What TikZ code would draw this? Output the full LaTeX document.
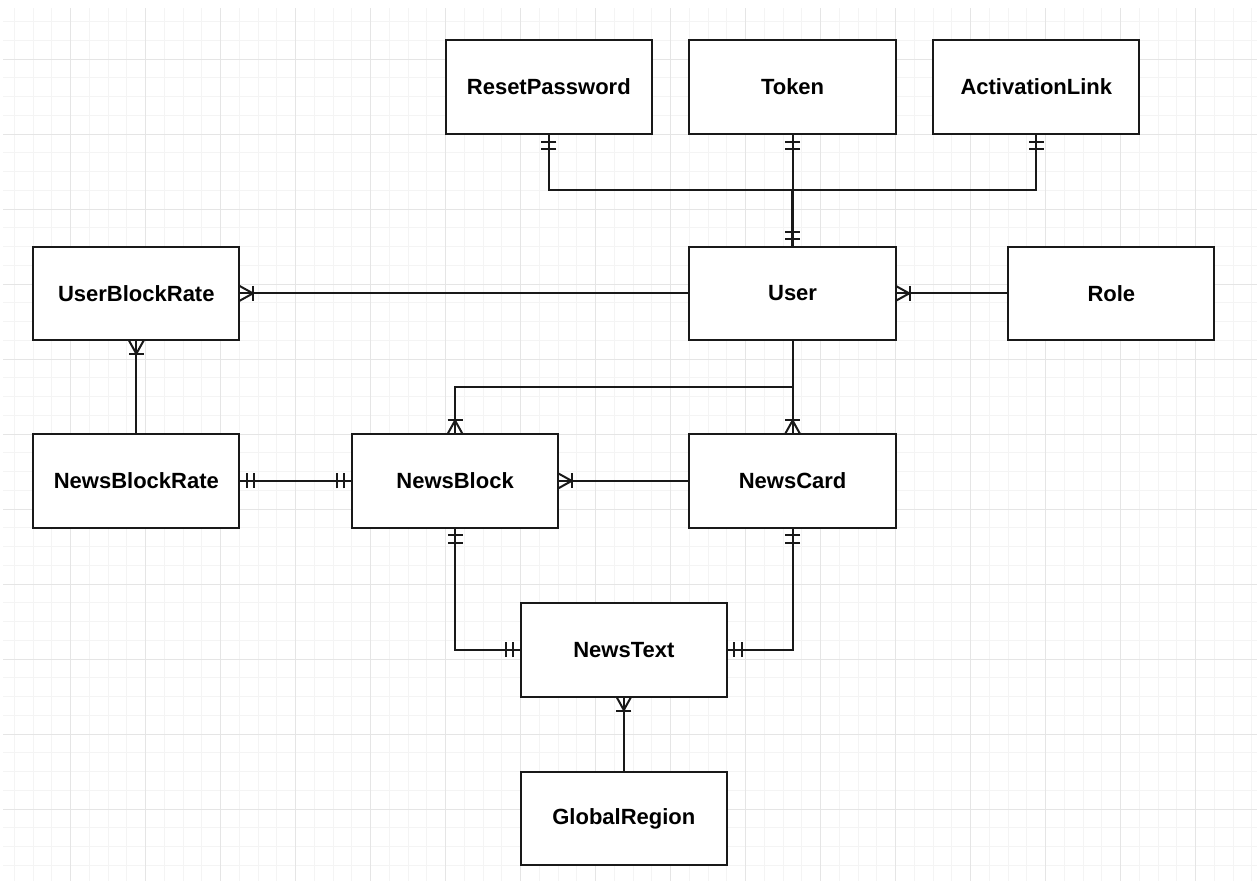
\documentclass[tikz,border=0pt]{standalone}
\usepackage{fontspec}
\setmainfont{Liberation Sans}
\begin{document}
\begin{tikzpicture}[x=1pt,y=-1pt,
  entity/.style={draw=black!90, line width=2pt, fill=white, minimum width=206.25pt, minimum height=93.75pt,
    inner sep=0pt, outer sep=0pt, font=\fontsize{22}{26}\selectfont\bfseries},
  conn/.style={draw=black!90, line width=2pt},
  minorgrid/.style={draw=gray!9, line width=1pt},
  majorgrid/.style={draw=gray!20, line width=1pt}]
\newcommand\mybars[2]{\begin{scope}[shift={#1},rotate=#2]
  \draw[conn] (7.5,-7.5) -- (7.5,7.5); \draw[conn] (15,-7.5) -- (15,7.5);\end{scope}}
\newcommand\mycrow[2]{\begin{scope}[shift={#1},rotate=#2]
  \draw[conn, line join=miter] (0,-7.5) -- (13.5,0) -- (0,7.5); \draw[conn] (14,-7.5) -- (14,7.5);\end{scope}}
\useasboundingbox (0,0) rectangle (1257,881);
\fill[white] (0,0) rectangle (1257,881);
% grid
\begin{scope}
\clip (3,8) rectangle (1257,881);
\foreach \k in {0,...,66} {\draw[minorgrid] ({14.45+18.75*\k},8) -- ({14.45+18.75*\k},881);}
\foreach \k in {0,...,45} {\draw[minorgrid] (3,{21.5+18.75*\k}) -- (1257,{21.5+18.75*\k});}
\foreach \m in {0,...,16} {\draw[majorgrid] ({70.7+75*\m},8) -- ({70.7+75*\m},881);}
\foreach \m in {0,...,11} {\draw[majorgrid] (3,{59+75*\m}) -- (1257,{59+75*\m});}
\end{scope}
% entities
\node[entity] (rp)   at (548.825,87.125)  {ResetPassword};
\node[entity] (tok)  at (792.575,87.125)  {Token};
\node[entity] (al)   at (1036.325,87.125) {ActivationLink};
\node[entity] (user) at (792.575,293.375) {User};
\node[entity] (ubr)  at (136.325,293.375) {UserBlockRate};
\node[entity] (role) at (1111.325,293.375) {Role};
\node[entity] (nbr)  at (136.325,480.875) {NewsBlockRate};
\node[entity] (nb)   at (455.075,480.875) {NewsBlock};
\node[entity] (nc)   at (792.575,480.875) {NewsCard};
\node[entity] (nt)   at (623.825,649.625) {NewsText};
\node[entity] (gr)   at (623.825,818.375) {GlobalRegion};
\coordinate (jtop) at (792.575,190.25);
\coordinate (jmid) at (792.575,387.125);
% connectors
\draw[conn] (rp.south) |- (jtop);
\draw[conn] (al.south) |- (jtop);
\draw[conn] (tok.south) -- (user.north);
\draw[conn, line width=2.4pt] (jtop) -- (user.north);
\draw[conn] (user.west) -- (ubr.east);
\draw[conn] (role.west) -- (user.east);
\draw[conn] (nbr.north) -- (ubr.south);
\draw[conn] (user.south) -- (jmid) -| (nb.north);
\draw[conn] (jmid) -- (nc.north);
\draw[conn] (nc.west) -- (nb.east);
\draw[conn] (nbr.east) -- (nb.west);
\draw[conn] (nb.south) |- (nt.west);
\draw[conn] (nc.south) |- (nt.east);
\draw[conn] (gr.north) -- (nt.south);
% markers
\mybars{(rp.south)}{-90}
\mybars{(tok.south)}{-90}
\mybars{(al.south)}{-90}
\mybars{(user.north)}{90}
\mycrow{(ubr.east)}{0}
\mycrow{(user.east)}{0}
\mycrow{(ubr.south)}{-90}
\mycrow{(nb.north)}{90}
\mycrow{(nc.north)}{90}
\mycrow{(nb.east)}{0}
\mybars{(nbr.east)}{0}
\mybars{(nb.west)}{180}
\mybars{(nb.south)}{-90}
\mybars{(nt.west)}{180}
\mybars{(nc.south)}{-90}
\mybars{(nt.east)}{0}
\mycrow{(nt.south)}{-90}
\end{tikzpicture}
\end{document}
